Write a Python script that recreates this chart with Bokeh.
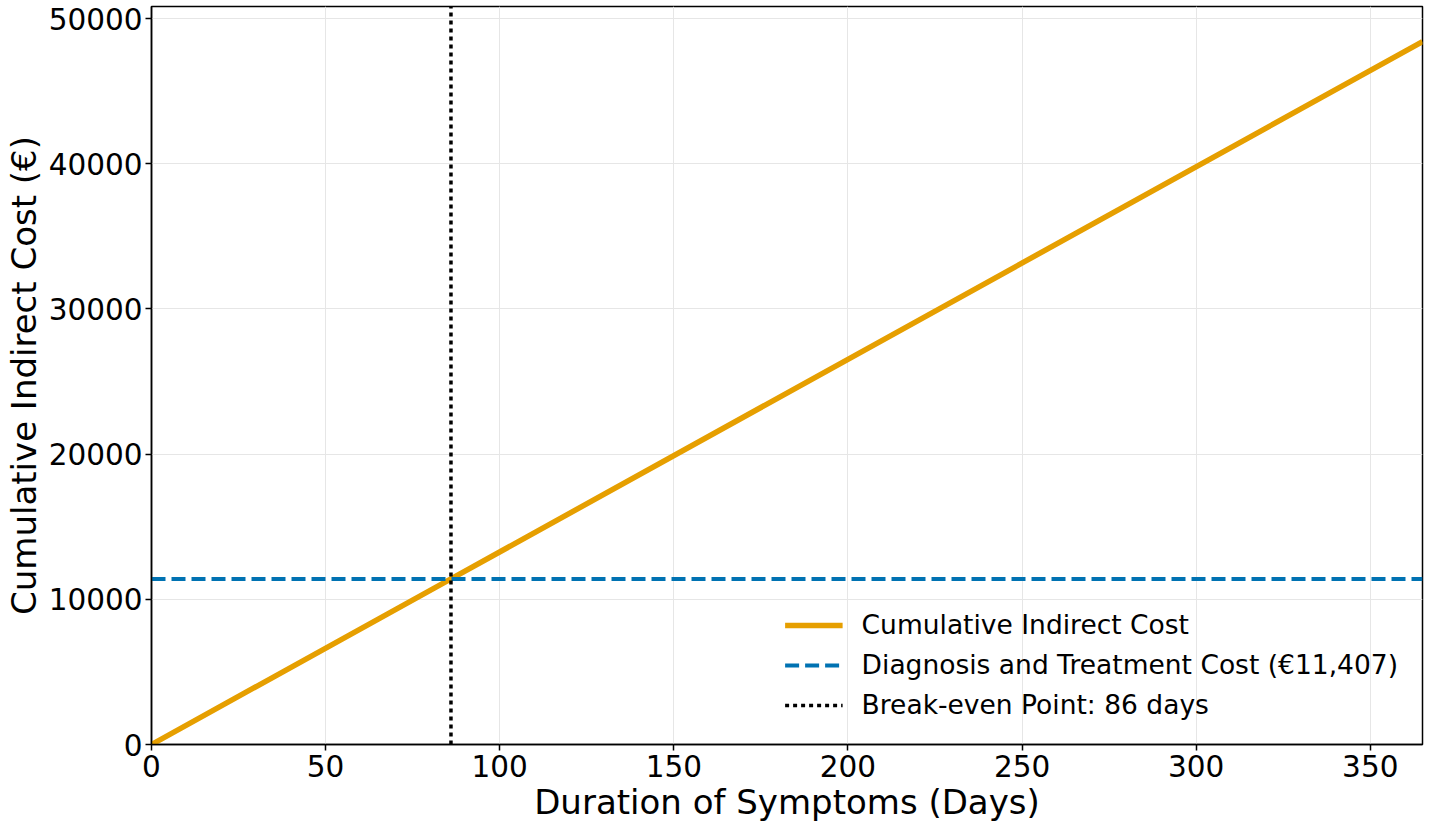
from bokeh.plotting import figure
from bokeh.embed import file_html
from bokeh.resources import INLINE
from bokeh.models import Range1d, FixedTicker, Legend, LegendItem

# Data
days = [0, 86, 365]
cumulative_cost = [0, 11407, 48414]
treatment_cost = 11407
break_even_day = 86
x_ticks = [0, 50, 100, 150, 200, 250, 300, 350]
y_ticks = [0, 10000, 20000, 30000, 40000, 50000]

FONT = "DejaVu Sans"

p = figure(width=1424, height=824, output_backend="svg", toolbar_location=None,
           x_range=Range1d(0, 365), y_range=Range1d(0, 50830),
           min_border_left=143, min_border_right=2, min_border_top=6, min_border_bottom=70)

p.outline_line_color = "black"
p.outline_line_width = 1.5

p.xgrid.grid_line_color = "#e6e6e6"
p.ygrid.grid_line_color = "#e6e6e6"
p.xgrid.grid_line_width = 1
p.ygrid.grid_line_width = 1

l1 = p.line(days, cumulative_cost, line_color="#E69F00", line_width=5.5)
l2 = p.line([0, 365], [treatment_cost, treatment_cost], line_color="#0072B2",
            line_width=4, line_dash="14 6")
l3 = p.line([break_even_day, break_even_day], [0, 50830], line_color="black",
            line_width=3.5, line_dash="4 4")

for ax in (p.xaxis, p.yaxis):
    ax.major_label_text_font = FONT
    ax.major_label_text_font_size = "29.5px"
    ax.major_label_text_color = "black"
    ax.axis_label_text_font = FONT
    ax.axis_label_text_font_size = "34px"
    ax.axis_label_text_font_style = "normal"
    ax.axis_label_text_color = "black"
    ax.minor_tick_line_color = None
    ax.major_tick_out = 6
    ax.major_tick_in = 0
    ax.major_tick_line_width = 1.5
    ax.axis_line_width = 1.5

p.xaxis.ticker = FixedTicker(ticks=x_ticks)
p.yaxis.ticker = FixedTicker(ticks=y_ticks)
p.xaxis.axis_label = "Duration of Symptoms (Days)"
p.yaxis.axis_label = "Cumulative Indirect Cost (€)"
p.xaxis.major_label_standoff = 4
p.yaxis.major_label_standoff = 3
p.xaxis.axis_label_standoff = 2
p.yaxis.axis_label_standoff = 2

legend = Legend(items=[
    LegendItem(label="Cumulative Indirect Cost", renderers=[l1]),
    LegendItem(label="Diagnosis and Treatment Cost (€11,407)", renderers=[l2]),
    LegendItem(label="Break-even Point: 86 days", renderers=[l3]),
], location="bottom_right")
legend.background_fill_alpha = 0
legend.border_line_alpha = 0
legend.label_text_font = FONT
legend.label_text_font_size = "26.5px"
legend.label_text_color = "black"
legend.glyph_width = 58
legend.glyph_height = 30
legend.label_height = 30
legend.spacing = 9
legend.margin = 16
legend.padding = 8
legend.label_standoff = 19
p.add_layout(legend)

open("out.html", "w").write(file_html(p, INLINE))
